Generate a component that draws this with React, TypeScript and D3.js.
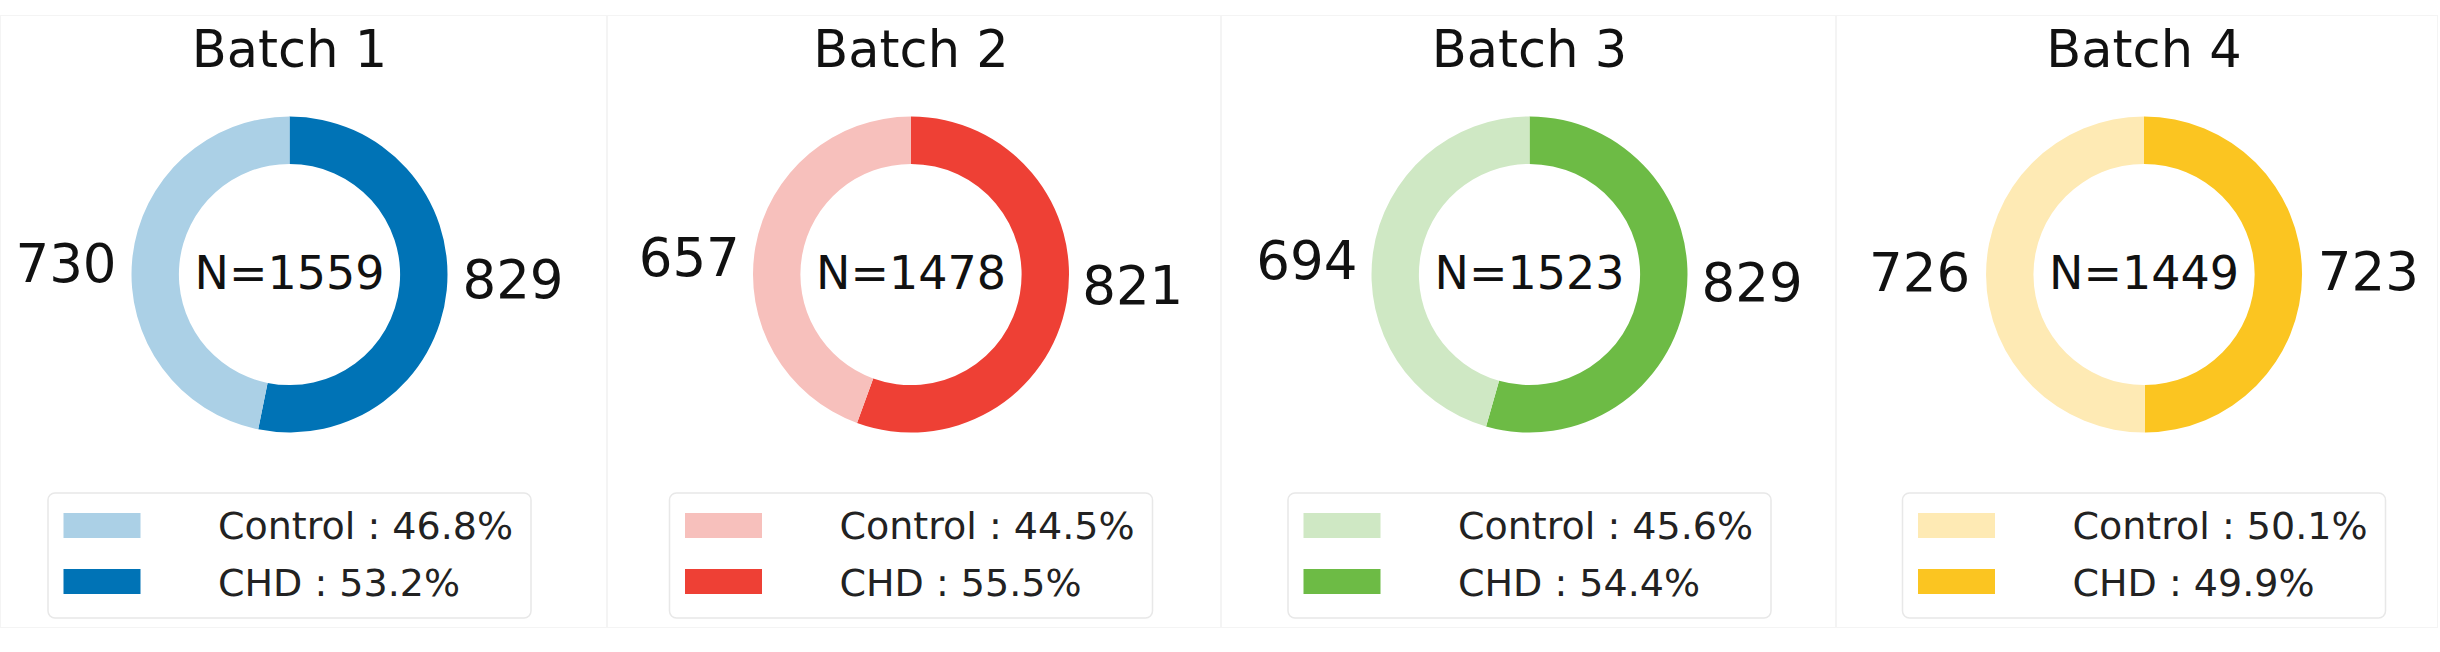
import * as d3 from 'd3';

// one entry per batch
const batchNames = ['Batch 1', 'Batch 2', 'Batch 3', 'Batch 4'];
const controlCounts = [730, 657, 694, 726];
const chdCounts = [829, 821, 829, 723];
const categories = ['Control', 'CHD'];
const lightColors = ['#abd0e6', '#f7c0bc', '#cfe8c4', '#feeab4'];
const darkColors = ['#0073b6', '#ee4035', '#6dbb45', '#fbc521'];

// layout (px)
const WIDTH = 2440;
const HEIGHT = 652;
const panelCenters = [289.5, 911, 1529.5, 2144];
const panelEdges = [0, 607, 1221, 1836, 2438];
const CY = 274.5;
const R = 158;
const HOLE = 0.7;
const LABEL_DIST = 1.1;
const LABEL_Y_SQUASH = 0.46;
const FONT = '"DejaVu Sans", sans-serif';

const pie = d3
  .pie<number>()
  .sort(null)
  .value((d) => d)
  .startAngle(0)
  .endAngle(2 * Math.PI);

const arc = d3
  .arc<d3.PieArcDatum<number>>()
  .innerRadius(R * HOLE)
  .outerRadius(R);

function Donut({ i }: { i: number }) {
  const cx = panelCenters[i];
  const control = controlCounts[i];
  const chd = chdCounts[i];
  const total = control + chd;
  // CHD runs clockwise from 12 o'clock, Control fills the rest
  const slices = pie([chd, control]);
  const fills = [darkColors[i], lightColors[i]];
  const pct = (v: number) => ((v / total) * 100).toFixed(1);

  const boxW = 483;
  const boxX = cx - boxW / 2;
  const boxY = 493;
  const legendRows = [
    { label: `${categories[0]} : ${pct(control)}%`, color: lightColors[i] },
    { label: `${categories[1]} : ${pct(chd)}%`, color: darkColors[i] },
  ];

  return (
    <g>
      <rect
        x={panelEdges[i] + 0.5}
        y={15.5}
        width={panelEdges[i + 1] - panelEdges[i] - 1}
        height={612}
        fill="none"
        stroke="#f4f4f4"
        strokeWidth={1}
      />
      <text x={cx} y={66.7} textAnchor="middle" fontSize={51} fontFamily={FONT} fill="#111">
        {batchNames[i]}
      </text>
      <g transform={`translate(${cx},${CY})`}>
        {slices.map((s, k) => (
          <path key={k} d={arc(s) || ''} fill={fills[k]} />
        ))}
        {slices.map((s, k) => {
          const mid = (s.startAngle + s.endAngle) / 2;
          const lx = LABEL_DIST * R * Math.sin(mid);
          const ly = -LABEL_DIST * R * Math.cos(mid) * LABEL_Y_SQUASH - 3.5 + 0.3645 * 53;
          return (
            <text
              key={'l' + k}
              x={lx}
              y={ly}
              textAnchor={lx >= 0 ? 'start' : 'end'}
              fontSize={53}
              fontFamily={FONT}
              fill="#111"
            >
              {s.data}
            </text>
          );
        })}
        <text x={0} y={-2 + 0.3645 * 46} textAnchor="middle" fontSize={46} fontFamily={FONT} fill="#111">
          {`N=${total}`}
        </text>
      </g>
      <rect x={boxX} y={boxY} width={boxW} height={125} rx={7} fill="#fff" stroke="#e8e8e8" strokeWidth={1.5} />
      {legendRows.map((row, k) => (
        <g key={'g' + k}>
          <rect x={boxX + 15.5} y={boxY + 20 + k * 56} width={77} height={25} fill={row.color} />
          <text x={boxX + 170} y={boxY + 45.5 + k * 57} fontSize={38} fontFamily={FONT} fill="#222">
            {row.label}
          </text>
        </g>
      ))}
    </g>
  );
}

export default function App() {
  return (
    <svg
      width={WIDTH}
      height={HEIGHT}
      style={{ position: 'absolute', left: 0, top: 0, background: '#fff' }}
    >
      <rect width={WIDTH} height={HEIGHT} fill="#fff" />
      {batchNames.map((_, i) => (
        <Donut key={i} i={i} />
      ))}
    </svg>
  );
}
